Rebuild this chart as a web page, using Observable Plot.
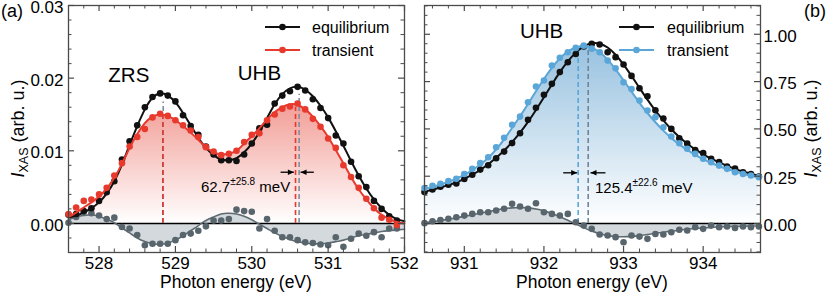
<!DOCTYPE html>
<html><head><meta charset="utf-8">
<script src="https://cdn.jsdelivr.net/npm/d3@7"></script>
<script src="https://cdn.jsdelivr.net/npm/@observablehq/plot@0.6"></script>
<style>
html,body{margin:0;padding:0;background:#fff;}
#wrap{position:relative;width:830px;height:293px;overflow:hidden;}
#wrap svg{position:absolute;top:0;overflow:visible;}
</style></head><body><div id="wrap"></div>
<script>
const FONT = "'Liberation Sans', Arial, Helvetica, sans-serif";
const seriesNames = ["equilibrium", "transient"];
const axisTitle = "Photon energy (eV)";

// ---------- panel (a): O K-edge ----------
const energyA = [527.6,527.7,527.8,527.9,528.0,528.1,528.2,528.3,528.4,528.5,528.6,528.7,528.8,528.9,529.0,529.1,529.2,529.3,529.4,529.5,529.6,529.7,529.8,529.9,530.0,530.1,530.2,530.3,530.4,530.5,530.6,530.7,530.8,530.9,531.0,531.1,531.2,531.3,531.4,531.5,531.6,531.7,531.8,531.9];
const eqA = [0.0012,0.0013,0.0017,0.0021,0.0031,0.0043,0.0058,0.0088,0.0113,0.0135,0.0160,0.0174,0.0179,0.0176,0.0168,0.0149,0.0134,0.0122,0.0106,0.0095,0.0087,0.0087,0.0086,0.0095,0.0110,0.0131,0.0136,0.0165,0.0176,0.0182,0.0188,0.0183,0.0171,0.0159,0.0145,0.0121,0.0110,0.0085,0.0065,0.0050,0.0031,0.0020,0.0010,0.0004];
const trA = [0.0013,0.0022,0.0031,0.0033,0.0040,0.0049,0.0066,0.0083,0.0106,0.0119,0.0130,0.0146,0.0151,0.0148,0.0142,0.0135,0.0128,0.0119,0.0105,0.0099,0.0094,0.0096,0.0100,0.0112,0.0122,0.0124,0.0142,0.0150,0.0158,0.0161,0.0165,0.0157,0.0144,0.0133,0.0117,0.0104,0.0080,0.0064,0.0049,0.0034,0.0021,0.0008,0.0005,-0.0002];
const diffA = [0.0001,0.0009,0.0016,0.0014,0.0011,0.0006,0.0008,-0.0005,-0.0007,-0.0016,-0.0030,-0.0028,-0.0028,-0.0028,-0.0023,-0.0016,-0.0014,-0.0010,-0.0004,0.0004,0.0004,0.0006,0.0019,0.0017,0.0016,-0.0007,0.0006,-0.0010,-0.0019,-0.0019,-0.0023,-0.0026,-0.0027,-0.0029,-0.0030,-0.0019,-0.0032,-0.0021,-0.0014,-0.0017,-0.0012,-0.0019,-0.0007,-0.0007];
const fitEnergyA = [527.6,527.7,527.8,527.9,528.0,528.1,528.2,528.3,528.4,528.5,528.6,528.7,528.8,528.9,529.0,529.1,529.2,529.3,529.4,529.5,529.6,529.7,529.8,529.9,530.0,530.1,530.2,530.3,530.4,530.5,530.6,530.7,530.8,530.9,531.0,531.1,531.2,531.3,531.4,531.5,531.6,531.7,531.8,531.9,532.0];
const eqFitA = [0.0008,0.0011,0.0015,0.0021,0.0029,0.0041,0.0058,0.0081,0.0108,0.0134,0.0157,0.0173,0.0179,0.0176,0.0167,0.0152,0.0135,0.0118,0.0104,0.0094,0.0088,0.0087,0.0090,0.0098,0.0110,0.0126,0.0145,0.0164,0.0178,0.0186,0.0188,0.0184,0.0175,0.0162,0.0146,0.0127,0.0107,0.0086,0.0066,0.0048,0.0033,0.0021,0.0012,0.0006,0.0003];
const trFitA = [0.0009,0.0015,0.0022,0.0029,0.0037,0.0048,0.0063,0.0082,0.0104,0.0123,0.0138,0.0147,0.0150,0.0148,0.0142,0.0134,0.0125,0.0115,0.0105,0.0098,0.0095,0.0096,0.0100,0.0110,0.0120,0.0131,0.0143,0.0153,0.0160,0.0164,0.0163,0.0157,0.0147,0.0134,0.0119,0.0101,0.0083,0.0064,0.0047,0.0033,0.0021,0.0012,0.0006,0.0002,0.0000];
const diffFitA = [0.0005,0.0009,0.0011,0.0012,0.0010,0.0006,0.0001,-0.0006,-0.0013,-0.0020,-0.0025,-0.0028,-0.0029,-0.0027,-0.0023,-0.0017,-0.0010,-0.0003,0.0004,0.0009,0.0013,0.0014,0.0013,0.0010,0.0005,-0.0001,-0.0007,-0.0013,-0.0018,-0.0022,-0.0025,-0.0027,-0.0028,-0.0028,-0.0027,-0.0025,-0.0023,-0.0020,-0.0017,-0.0015,-0.0013,-0.0011,-0.0010,-0.0009,-0.0008];
const xTicksA = [528, 529, 530, 531, 532];
const yTicksA = [0, 0.01, 0.02, 0.03];
const peakEqA = [528.84, 530.62];
const peakEqTopA = [0.0167, 0.0178];
const peakTrA = [528.835, 530.573];
const peakTrTopA = [0.0149, 0.0160];
const bandLabelsA = ["ZRS", "UHB"];
const shiftTextA = ["62.7", "±25.8", " meV"];

// ---------- panel (b): Cu L-edge ----------
const energyB = [930.5,930.6,930.7,930.8,930.9,931.0,931.1,931.2,931.3,931.4,931.5,931.6,931.7,931.8,931.9,932.0,932.1,932.2,932.3,932.4,932.5,932.6,932.7,932.8,932.9,933.0,933.1,933.2,933.3,933.4,933.5,933.6,933.7,933.8,933.9,934.0,934.1,934.2,934.3,934.4,934.5,934.6,934.7];
const eqB = [0.166,0.180,0.195,0.205,0.212,0.235,0.258,0.285,0.308,0.345,0.380,0.425,0.477,0.548,0.612,0.680,0.738,0.800,0.852,0.896,0.935,0.949,0.946,0.905,0.879,0.840,0.780,0.715,0.672,0.598,0.555,0.500,0.450,0.422,0.388,0.372,0.342,0.325,0.301,0.290,0.271,0.262,0.248];
const trB = [0.188,0.200,0.210,0.224,0.236,0.262,0.289,0.319,0.350,0.403,0.453,0.522,0.565,0.641,0.724,0.756,0.835,0.876,0.905,0.928,0.940,0.924,0.905,0.861,0.820,0.746,0.711,0.650,0.597,0.562,0.509,0.460,0.424,0.395,0.368,0.342,0.324,0.306,0.289,0.271,0.262,0.254,0.245];
const diffB = [0.002,0.012,0.019,0.025,0.033,0.042,0.051,0.060,0.060,0.069,0.078,0.104,0.090,0.078,0.107,0.060,0.051,0.042,0.051,0.007,-0.011,-0.028,-0.058,-0.063,-0.072,-0.099,-0.063,-0.069,-0.081,-0.055,-0.058,-0.046,-0.033,-0.037,-0.019,-0.028,-0.011,-0.019,-0.016,-0.023,-0.016,-0.019,-0.016];
const fitEnergyB = energyB;
const eqFitB = [0.168,0.178,0.190,0.203,0.218,0.236,0.258,0.283,0.313,0.347,0.386,0.430,0.480,0.537,0.600,0.667,0.735,0.800,0.857,0.903,0.936,0.952,0.950,0.930,0.892,0.840,0.780,0.717,0.655,0.597,0.545,0.498,0.457,0.422,0.392,0.366,0.343,0.323,0.305,0.289,0.275,0.263,0.252];
const trFitB = [0.182,0.193,0.206,0.220,0.237,0.257,0.282,0.312,0.347,0.392,0.445,0.505,0.567,0.632,0.699,0.764,0.823,0.872,0.908,0.930,0.937,0.929,0.905,0.866,0.815,0.757,0.697,0.638,0.584,0.535,0.491,0.452,0.418,0.389,0.363,0.340,0.320,0.303,0.288,0.275,0.263,0.253,0.244];
const diffFitB = [0.004,0.010,0.016,0.023,0.030,0.038,0.046,0.055,0.063,0.071,0.078,0.083,0.085,0.083,0.077,0.067,0.053,0.036,0.017,-0.003,-0.022,-0.040,-0.054,-0.064,-0.069,-0.070,-0.068,-0.064,-0.058,-0.052,-0.046,-0.040,-0.035,-0.030,-0.026,-0.023,-0.020,-0.018,-0.016,-0.015,-0.014,-0.013,-0.013];
const xTicksB = [931, 932, 933, 934];
const yTicksB = [0, 0.25, 0.5, 0.75, 1.0];
const peakEqB = [932.556];
const peakEqTopB = [0.915];
const peakTrB = [932.43];
const peakTrTopB = [0.915];
const bandLabelsB = ["UHB"];
const shiftTextB = ["125.4", "±22.6", " meV"];

const BLACK = "#111111", RED = "#e8392d", BLUE = "#5aa6d8", GRAYPT = "#58656c", GRAYLN = "#5e6b72", GRAYFILL = "#d4d9dd", TICK = "#4a4a4a";
const NS = "http://www.w3.org/2000/svg";

function minorTicks(domain, step, major) {
  const out = [];
  for (let i = Math.ceil(domain[0] / step - 1e-9); i <= Math.floor(domain[1] / step + 1e-9); i++) {
    const v = +(i * step).toFixed(6);
    const r = v / major;
    if (Math.abs(r - Math.round(r)) > 1e-6) out.push(v);
  }
  return out;
}
const arrowR = {draw(ctx) { ctx.moveTo(0, 0); ctx.lineTo(-6, -2.8); ctx.lineTo(-6, 2.8); ctx.closePath(); }};
const arrowL = {draw(ctx) { ctx.moveTo(0, 0); ctx.lineTo(6, -2.8); ctx.lineTo(6, 2.8); ctx.closePath(); }};

function el(tag, attrs, parent, text) {
  const e = document.createElementNS(NS, tag);
  for (const k in attrs) e.setAttribute(k, attrs[k]);
  if (text != null) e.textContent = text;
  if (parent) parent.appendChild(e);
  return e;
}

function makePanel(c) {
  const W = 415, H = 293;
  const fw = W - c.ml - c.mr, fh = H - c.mt - c.mb;
  const rows = c.energy.map((x, i) => ({x, eq: c.eq[i], tr: c.tr[i], diff: c.diff[i]}));
  const fits = c.fitEnergy.map((x, i) => ({x, eq: c.eqFit[i], tr: c.trFit[i], diff: c.diffFit[i]}));
  const peaksEq = c.peakEq.map((x, i) => ({x, top: c.peakEqTop[i]}));
  const peaksTr = c.peakTr.map((x, i) => ({x, top: c.peakTrTop[i]}));
  const xMinor = minorTicks(c.xDomain, 0.2, 1);
  const yMinor = minorTicks(c.yDomain, c.yMinorStep, c.yMajorStep);
  const svg = Plot.plot({
    width: W, height: H,
    marginLeft: c.ml, marginRight: c.mr, marginTop: c.mt, marginBottom: c.mb,
    x: {domain: c.xDomain}, y: {domain: c.yDomain},
    style: {fontFamily: FONT, background: "transparent", overflow: "visible", color: "#000"},
    marks: [
      Plot.areaY(fits, {x: "x", y: "tr", fill: `url(#${c.gradId})`, curve: "natural"}),
      Plot.areaY(fits, {x: "x", y: "diff", fill: GRAYFILL, curve: "natural"}),
      Plot.ruleY([0], {stroke: "#000", strokeWidth: 1.6}),
      Plot.ruleX(peaksEq, {x: "x", y1: 0, y2: "top", stroke: c.eqDash, strokeWidth: 1.6, strokeDasharray: "5,3"}),
      Plot.ruleX(peaksTr, {x: "x", y1: 0, y2: "top", stroke: c.trColor, strokeWidth: 1.6, strokeDasharray: "5,3"}),
      Plot.lineY(fits, {x: "x", y: "diff", stroke: GRAYLN, strokeWidth: 1.6, curve: "natural"}),
      Plot.dot(rows, {x: "x", y: "diff", r: 3.3, fill: GRAYPT}),
      Plot.lineY(fits, {x: "x", y: "eq", stroke: BLACK, strokeWidth: 2, curve: "natural"}),
      Plot.dot(rows, {x: "x", y: "eq", r: 3.3, fill: BLACK}),
      Plot.lineY(fits, {x: "x", y: "tr", stroke: c.trColor, strokeWidth: 2, curve: "natural"}),
      Plot.dot(rows, {x: "x", y: "tr", r: 3.3, fill: c.trColor}),
      Plot.link(c.arrows, {x1: "x1", x2: "x2", y1: "y", y2: "y", stroke: "#000", strokeWidth: 1.3}),
      Plot.dot(c.arrows.filter(d => d.x2 > d.x1), {x: "x2", y: "y", symbol: arrowR, fill: "#000", stroke: "none"}),
      Plot.dot(c.arrows.filter(d => d.x2 < d.x1), {x: "x2", y: "y", symbol: arrowL, fill: "#000", stroke: "none"}),
      Plot.text(c.bands, {x: "x", y: "y", text: "label", fontSize: 20.5, fill: "#000"}),
      Plot.ruleX(c.xTicks, {insetTop: fh - 6, stroke: TICK, strokeWidth: 1.2}),
      Plot.ruleX(c.xTicks, {insetBottom: fh - 6, stroke: TICK, strokeWidth: 1.2}),
      Plot.ruleX(xMinor, {insetTop: fh - 3.5, stroke: TICK, strokeWidth: 1}),
      Plot.ruleX(xMinor, {insetBottom: fh - 3.5, stroke: TICK, strokeWidth: 1}),
      Plot.ruleY(c.yTicks, {insetRight: fw - 6, stroke: TICK, strokeWidth: 1.2}),
      Plot.ruleY(c.yTicks, {insetLeft: fw - 6, stroke: TICK, strokeWidth: 1.2}),
      Plot.ruleY(yMinor, {insetRight: fw - 3.5, stroke: TICK, strokeWidth: 1}),
      Plot.ruleY(yMinor, {insetLeft: fw - 3.5, stroke: TICK, strokeWidth: 1}),
      Plot.axisX(c.xTicks, {anchor: "bottom", tickSize: 0, tickPadding: 4, fontSize: 17, label: null, tickFormat: d => d.toFixed(0)}),
      Plot.axisY(c.yTicks, {anchor: c.yAnchor, tickSize: 0, tickPadding: c.yPad, dy: 2, fontSize: 17, label: null, tickFormat: d => d.toFixed(2)}),
      Plot.frame({stroke: TICK, strokeWidth: 1.3})
    ]
  });
  svg.style.left = c.left + "px";
  const sx = svg.scale("x"), sy = svg.scale("y");
  // gradient
  const defs = el("defs", {});
  svg.insertBefore(defs, svg.firstChild);
  const g = el("linearGradient", {id: c.gradId, x1: 0, y1: 0, x2: 0, y2: 1}, defs);
  el("stop", {offset: "0", "stop-color": c.gradTop}, g);
  el("stop", {offset: "1", "stop-color": "#ffffff"}, g);
  const T = el("g", {"font-family": FONT, fill: "#000", "text-anchor": "start"}, svg);
  // legend
  const legColors = [BLACK, c.trColor];
  seriesNames.forEach((name, i) => {
    const y = c.legY[i];
    el("line", {x1: c.legX[0], x2: c.legX[1], y1: y, y2: y, stroke: legColors[i], "stroke-width": 2}, T);
    el("circle", {cx: (c.legX[0] + c.legX[1]) / 2, cy: y, r: 3.3, fill: legColors[i]}, T);
    el("text", {x: c.legX[2], y: y, "font-size": 16, "dominant-baseline": "central", "text-anchor": "start"}, T, name);
  });
  // shift annotation
  const ann = el("text", {x: sx.apply(c.shiftPos[0]), y: sy.apply(c.shiftPos[1]), "font-size": 15, "text-anchor": "start"}, T);
  el("tspan", {}, ann, c.shiftText[0]);
  el("tspan", {"font-size": 10, dy: -7}, ann, c.shiftText[1]);
  el("tspan", {dy: 7}, ann, c.shiftText[2]);
  // x title
  el("text", {x: c.ml + fw / 2, y: 288, "font-size": 17.5, "text-anchor": "middle"}, T, axisTitle);
  // y title
  const yt = el("text", {x: c.yTitleX, y: c.mt + fh / 2, "font-size": 18, "text-anchor": "middle",
    transform: `rotate(-90 ${c.yTitleX} ${c.mt + fh / 2})`}, T);
  el("tspan", {"font-style": "italic"}, yt, "I");
  el("tspan", {"font-size": 12.5, dy: 4}, yt, "XAS");
  el("tspan", {dy: -4}, yt, " (arb. u.)");
  // panel letter
  el("text", {x: c.letterX, y: 17, "font-size": 18, "text-anchor": "start"}, T, c.letter);
  document.getElementById("wrap").appendChild(svg);
}

makePanel({
  left: 0, ml: 68, mr: 11, mt: 5, mb: 41,
  xDomain: [527.6, 532], yDomain: [-0.004, 0.03], yMinorStep: 0.002, yMajorStep: 0.01,
  energy: energyA, eq: eqA, tr: trA, diff: diffA,
  fitEnergy: fitEnergyA, eqFit: eqFitA, trFit: trFitA, diffFit: diffFitA,
  xTicks: xTicksA, yTicks: yTicksA, yAnchor: "left", yPad: 5,
  peakEq: peakEqA, peakEqTop: peakEqTopA, peakTr: peakTrA, peakTrTop: peakTrTopA,
  eqDash: "#7b8fa1", trColor: RED, gradId: "gradA", gradTop: "#f29d96",
  arrows: [{x1: 530.377, x2: 530.551, y: 0.00705}, {x1: 530.813, x2: 530.639, y: 0.00705}],
  bands: [{label: bandLabelsA[0], x: 528.39, y: 0.0204}, {label: bandLabelsA[1], x: 530.10, y: 0.0206}],
  legX: [265, 300, 312], legY: [27, 50],
  shiftText: shiftTextA, shiftPos: [529.342, 0.00425],
  yTitleX: 24, letter: "(a)", letterX: 1
});
makePanel({
  left: 415, ml: 9, mr: 70, mt: 5, mb: 41,
  xDomain: [930.5, 934.72], yDomain: [-0.153, 1.152], yMinorStep: 0.05, yMajorStep: 0.25,
  energy: energyB, eq: eqB, tr: trB, diff: diffB,
  fitEnergy: fitEnergyB, eqFit: eqFitB, trFit: trFitB, diffFit: diffFitB,
  xTicks: xTicksB, yTicks: yTicksB, yAnchor: "right", yPad: 3,
  peakEq: peakEqB, peakEqTop: peakEqTopB, peakTr: peakTrB, peakTrTop: peakTrTopB,
  eqDash: "#6f8599", trColor: BLUE, gradId: "gradB", gradTop: "#98c2e0",
  arrows: [{x1: 932.242, x2: 932.418, y: 0.268}, {x1: 932.773, x2: 932.585, y: 0.268}],
  bands: [{label: bandLabelsB[0], x: 931.97, y: 1.014}],
  legX: [204, 239, 252], legY: [27, 50],
  shiftText: shiftTextB, shiftPos: [932.648, 0.1585],
  yTitleX: 402, letter: "(b)", letterX: 389
});
</script></body></html>
